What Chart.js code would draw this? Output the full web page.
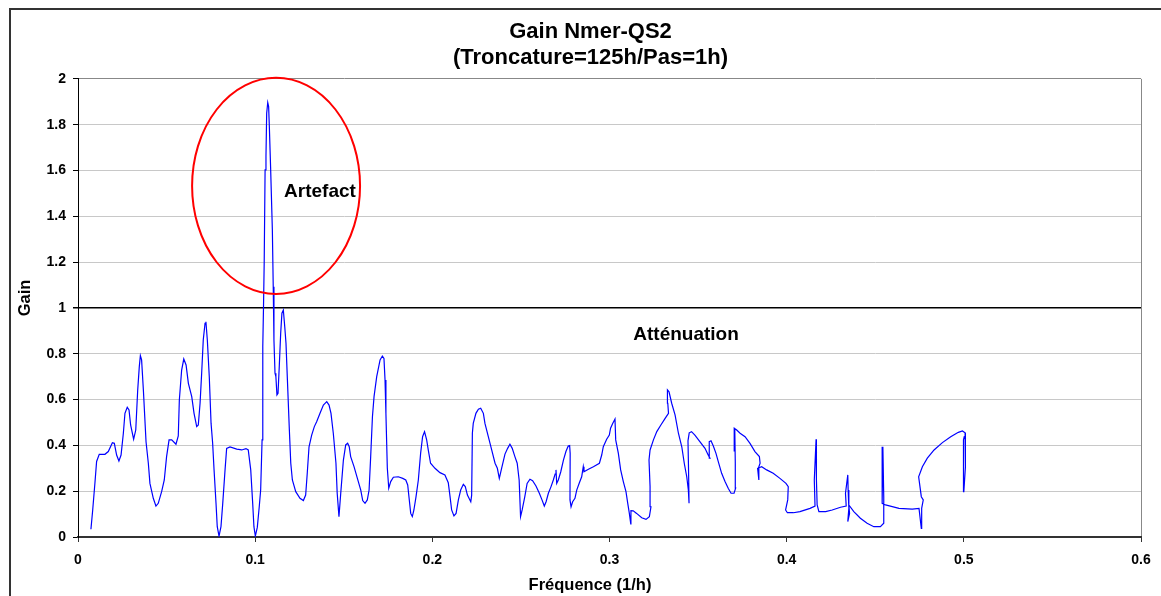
<!DOCTYPE html>
<html>
<head>
<meta charset="utf-8">
<script src="https://cdn.jsdelivr.net/npm/chart.js@4.4.1/dist/chart.umd.min.js"></script>
<style>
html, body { margin: 0; padding: 0; background: #fff; }
#wrap { width: 1161px; height: 596px; }
</style>
</head>
<body>
<div id="wrap"><canvas id="gainChart" width="1161" height="596"></canvas></div>
<script>
/* DATA */
const titleLines = ["Gain Nmer-QS2", "(Troncature=125h/Pas=1h)"];
const xTitle = "Fréquence (1/h)";
const yTitle = "Gain";
const xTicks = [0, 0.1, 0.2, 0.3, 0.4, 0.5, 0.6];
const yTicks = [0, 0.2, 0.4, 0.6, 0.8, 1, 1.2, 1.4, 1.6, 1.8, 2];

// fréquence (1/h) (the curve folds back on itself in places)
const freq = [
  0.0073, 0.0083, 0.0096, 0.0105, 0.012, 0.0152, 0.0171, 0.0194, 0.0205, 0.0218,
  0.0231, 0.0243, 0.0256, 0.0265, 0.0278, 0.0288, 0.0297, 0.0314, 0.0326, 0.0337,
  0.0346, 0.0352, 0.0359, 0.0369, 0.0384, 0.0397, 0.0406, 0.0425, 0.044, 0.0453,
  0.0472, 0.0487, 0.05, 0.0514, 0.0529, 0.0553, 0.0566, 0.0572, 0.0585, 0.0597,
  0.061, 0.0623, 0.0642, 0.0655, 0.067, 0.0679, 0.0689, 0.0698, 0.0707, 0.0717,
  0.0722, 0.073, 0.0741, 0.0751, 0.076, 0.0768, 0.0779, 0.0786, 0.0796, 0.0807,
  0.0817, 0.083, 0.0839, 0.0858, 0.0896, 0.0924, 0.0948, 0.0961, 0.0975, 0.0986,
  0.0993, 0.1001, 0.1012, 0.1023, 0.1031, 0.1039, 0.1042, 0.1044, 0.1047, 0.1051,
  0.1056, 0.1061, 0.1065, 0.1071, 0.1076, 0.108, 0.1087, 0.1097, 0.1102, 0.1106,
  0.1112, 0.1117, 0.1123, 0.1129, 0.1136, 0.1144, 0.1151, 0.1159, 0.1167, 0.1174,
  0.1182, 0.1193, 0.1201, 0.121, 0.1229, 0.1253, 0.1272, 0.1285, 0.1294, 0.1304,
  0.1319, 0.1334, 0.1347, 0.1366, 0.1385, 0.1404, 0.1417, 0.1428, 0.1441, 0.1456,
  0.1463, 0.1473, 0.1483, 0.1498, 0.1511, 0.1522, 0.1531, 0.1539, 0.1558, 0.1577,
  0.1596, 0.1607, 0.162, 0.1633, 0.1643, 0.1652, 0.1662, 0.1671, 0.1686, 0.1705,
  0.1718, 0.1727, 0.1733, 0.1738, 0.1746, 0.1754, 0.1765, 0.178, 0.1808, 0.1833,
  0.185, 0.1861, 0.1868, 0.1878, 0.1887, 0.1896, 0.1908, 0.1921, 0.1934, 0.1945,
  0.1956, 0.1968, 0.1977, 0.199, 0.2015, 0.2043, 0.2071, 0.209, 0.21, 0.2109,
  0.2122, 0.2134, 0.2147, 0.216, 0.2175, 0.2186, 0.2198, 0.2217, 0.2222, 0.2226,
  0.2231, 0.2246, 0.226, 0.2273, 0.2288, 0.2297, 0.2316, 0.2335, 0.2354, 0.2367,
  0.2378, 0.2391, 0.241, 0.2425, 0.2438, 0.2451, 0.2466, 0.2479, 0.249, 0.2498,
  0.2507, 0.2522, 0.2535, 0.2551, 0.2566, 0.2585, 0.2604, 0.2619, 0.2632, 0.2642,
  0.2655, 0.267, 0.2683, 0.2693, 0.2698, 0.2702, 0.2711, 0.2725, 0.274, 0.2754,
  0.2767, 0.2775, 0.2778, 0.2777, 0.2783, 0.2792, 0.2805, 0.2815, 0.283, 0.2843,
  0.2852, 0.2856, 0.2881, 0.2909, 0.2943, 0.2956, 0.2965, 0.2984, 0.2999, 0.3006,
  0.3018, 0.3031, 0.3035, 0.305, 0.3063, 0.3078, 0.3093, 0.3103, 0.3112, 0.312,
  0.3121, 0.3134, 0.3153, 0.3182, 0.3206, 0.3225, 0.3234, 0.3229, 0.3223, 0.3229,
  0.3248, 0.3267, 0.329, 0.3314, 0.3333, 0.3329, 0.3327, 0.3336, 0.3351, 0.337,
  0.3389, 0.3408, 0.3422, 0.3436, 0.3445, 0.3449, 0.3446, 0.3443, 0.345, 0.3463,
  0.3482, 0.351, 0.3539, 0.3557, 0.3567, 0.3563, 0.3573, 0.3586, 0.3601, 0.3614,
  0.3633, 0.3652, 0.367, 0.3686, 0.3703, 0.3712, 0.371, 0.3707, 0.3703, 0.3705,
  0.3718, 0.3737, 0.3765, 0.3793, 0.3821, 0.3846, 0.385, 0.384, 0.3843, 0.3836,
  0.3859, 0.3887, 0.3924, 0.3962, 0.3996, 0.4009, 0.4006, 0.3994, 0.4004, 0.4038,
  0.4075, 0.4132, 0.416, 0.4156, 0.4166, 0.4168, 0.4172, 0.4182, 0.422, 0.4257,
  0.4304, 0.4336, 0.4332, 0.4345, 0.4347, 0.4351, 0.4345, 0.4355, 0.4351, 0.4379,
  0.4416, 0.4454, 0.4492, 0.4529, 0.4548, 0.4548, 0.4543, 0.4539, 0.4539, 0.4558,
  0.4634, 0.4709, 0.4747, 0.476, 0.4762, 0.4771, 0.476, 0.4745, 0.4766, 0.4794,
  0.4832, 0.4879, 0.4926, 0.4969, 0.4992, 0.5007, 0.5011, 0.5007, 0.5, 0.4998,
  0.5003
];

// gain, same order as freq
const gain = [
  0.034, 0.118, 0.24, 0.33, 0.361, 0.361, 0.373, 0.412, 0.409, 0.358,
  0.332, 0.358, 0.453, 0.54, 0.566, 0.555, 0.489, 0.427, 0.467, 0.642,
  0.744, 0.792, 0.773, 0.642, 0.416, 0.322, 0.234, 0.169, 0.135, 0.147,
  0.198, 0.249, 0.351, 0.424, 0.424, 0.405, 0.441, 0.598, 0.729, 0.777,
  0.751, 0.671, 0.613, 0.54, 0.482, 0.489, 0.584, 0.715, 0.86, 0.933,
  0.94, 0.86, 0.7, 0.497, 0.409, 0.293, 0.147, 0.045, 0.004, 0.045,
  0.147, 0.293, 0.387, 0.393, 0.384, 0.38, 0.386, 0.38, 0.293, 0.147,
  0.045, 0.004, 0.042, 0.132, 0.205, 0.424, 0.642, 0.831, 1.0, 1.2,
  1.603, 1.661, 1.85, 1.897, 1.879, 1.792, 1.617, 1.341, 1.093, 0.86,
  0.715, 0.7, 0.62, 0.627, 0.744, 0.889, 0.977, 0.991, 0.918, 0.846,
  0.686, 0.467, 0.322, 0.249, 0.198, 0.169, 0.159, 0.183, 0.278, 0.394,
  0.445, 0.482, 0.503, 0.54, 0.576, 0.591, 0.576, 0.54, 0.453, 0.322,
  0.191, 0.089, 0.191, 0.336, 0.402, 0.409, 0.394, 0.351, 0.307, 0.256,
  0.205, 0.159, 0.147, 0.162, 0.205, 0.351, 0.526, 0.613, 0.7, 0.773,
  0.79, 0.78, 0.686, 0.54, 0.3, 0.213, 0.242, 0.261, 0.263, 0.256,
  0.249, 0.227, 0.176, 0.103, 0.089, 0.118, 0.176, 0.249, 0.366, 0.438,
  0.46, 0.424, 0.38, 0.322, 0.3, 0.281, 0.271, 0.237, 0.176, 0.118,
  0.092, 0.103, 0.162, 0.205, 0.23, 0.22, 0.183, 0.154, 0.183, 0.453,
  0.496, 0.54, 0.558, 0.562, 0.54, 0.496, 0.438, 0.38, 0.322, 0.3,
  0.256, 0.3, 0.362, 0.387, 0.405, 0.387, 0.351, 0.322, 0.249, 0.089,
  0.118, 0.176, 0.234, 0.252, 0.246, 0.223, 0.191, 0.162, 0.135, 0.154,
  0.191, 0.22, 0.249, 0.275, 0.293, 0.234, 0.249, 0.285, 0.336, 0.373,
  0.397, 0.399, 0.365, 0.162, 0.132, 0.154, 0.169, 0.205, 0.237, 0.263,
  0.307, 0.285, 0.296, 0.307, 0.322, 0.358, 0.394, 0.427, 0.445, 0.475,
  0.496, 0.515, 0.424, 0.365, 0.293, 0.242, 0.198, 0.147, 0.103, 0.057,
  0.115, 0.114, 0.103, 0.084, 0.077, 0.089, 0.132, 0.22, 0.336, 0.38,
  0.424, 0.46, 0.489, 0.518, 0.54, 0.584, 0.642, 0.634, 0.584, 0.533,
  0.453, 0.394, 0.322, 0.263, 0.205, 0.147, 0.3, 0.42, 0.455, 0.46,
  0.445, 0.416, 0.387, 0.358, 0.344, 0.416, 0.42, 0.397, 0.365, 0.329,
  0.278, 0.242, 0.213, 0.191, 0.191, 0.213, 0.322, 0.475, 0.373, 0.475,
  0.467, 0.453, 0.438, 0.409, 0.373, 0.351, 0.322, 0.3, 0.249, 0.3,
  0.307, 0.293, 0.278, 0.256, 0.234, 0.22, 0.162, 0.118, 0.106, 0.106,
  0.111, 0.125, 0.135, 0.249, 0.427, 0.249, 0.14, 0.111, 0.111, 0.118,
  0.13, 0.135, 0.191, 0.271, 0.205, 0.125, 0.067, 0.103, 0.14, 0.111,
  0.082, 0.06, 0.045, 0.045, 0.06, 0.176, 0.394, 0.249, 0.147, 0.14,
  0.125, 0.122, 0.125, 0.038, 0.125, 0.162, 0.176, 0.263, 0.307, 0.344,
  0.38, 0.412, 0.438, 0.457, 0.463, 0.455, 0.424, 0.307, 0.198, 0.424,
  0.44
];

// annotations (data coords)
const artefactEllipse = { x: 0.1118, y: 1.533, rx: 0.0474, ry: 0.4716 };
const notes = [
  { text: "Artefact", x: 0.1366, y: 1.507 },
  { text: "Atténuation", x: 0.3432, y: 0.882 }
];

const FONT = "'Liberation Sans', Arial, sans-serif";

/* PLUGIN: cadre, ellipse, textes */
const decor = {
  id: "decor",
  beforeDraw(chart) {
    const ctx = chart.ctx;
    ctx.save();
    ctx.fillStyle = "#fff";
    ctx.fillRect(0, 0, chart.width, chart.height);
    ctx.strokeStyle = "#333";
    ctx.lineWidth = 2;
    ctx.beginPath();
    ctx.moveTo(10, chart.height);
    ctx.lineTo(10, 9);
    ctx.lineTo(chart.width, 9);
    ctx.stroke();
    ctx.restore();
  },
  afterDatasetsDraw(chart) {
    const ctx = chart.ctx;
    const x = chart.scales.x, y = chart.scales.y;
    const e = artefactEllipse;
    const cx = x.getPixelForValue(e.x), cy = y.getPixelForValue(e.y);
    const rx = x.getPixelForValue(e.x + e.rx) - cx;
    const ry = cy - y.getPixelForValue(e.y + e.ry);

    ctx.save();
    ctx.strokeStyle = "#ff0000";
    ctx.lineWidth = 2;
    ctx.beginPath();
    ctx.ellipse(cx, cy, rx, ry, 0, 0, Math.PI * 2);
    ctx.stroke();

    ctx.fillStyle = "#000";
    ctx.textAlign = "center";
    ctx.textBaseline = "middle";
    ctx.font = "bold 19px " + FONT;
    notes.forEach(n => {
      ctx.fillText(n.text, x.getPixelForValue(n.x), y.getPixelForValue(n.y));
    });

    // axis titles
    ctx.font = "bold 16.5px " + FONT;
    ctx.fillText(xTitle, 590, 585);
    ctx.translate(25, 298);
    ctx.rotate(-Math.PI / 2);
    ctx.fillText(yTitle, 0, 0);
    ctx.restore();
  }
};

const fmt = v => String(Number(v.toFixed(1)));

new Chart(document.getElementById("gainChart"), {
  type: "scatter",
  data: {
    datasets: [{
      data: freq.map((f, i) => ({ x: f, y: gain[i] })),
      showLine: true,
      borderColor: "#0000ff",
      borderWidth: 1.2,
      pointRadius: 0,
      tension: 0,
      fill: false
    }]
  },
  options: {
    responsive: false,
    animation: false,
    devicePixelRatio: 1,
    layout: { padding: { left: 40, right: 20, top: 0, bottom: 0 } },
    plugins: {
      legend: { display: false },
      tooltip: { enabled: false },
      title: {
        display: true,
        text: titleLines,
        color: "#000",
        font: { family: FONT, size: 22, weight: "bold", lineHeight: 1.18 },
        padding: { top: 19, bottom: 8 }
      }
    },
    scales: {
      x: {
        type: "linear",
        min: 0,
        max: 0.6,
        afterBuildTicks: s => { s.ticks = xTicks.map(v => ({ value: v })); },
        afterFit: s => { s.height = 59; },
        ticks: {
          color: "#000",
          padding: 10,
          font: { family: FONT, size: 14, weight: "bold" },
          callback: fmt
        },
        grid: {
          drawOnChartArea: true,
          color: c => (c.tick && c.tick.value === 0.6 ? "#888" : "rgba(0,0,0,0)"),
          tickColor: "#333",
          tickLength: 5
        },
        border: { color: "#333", width: 2 }
      },
      y: {
        type: "linear",
        min: 0,
        max: 2,
        afterBuildTicks: s => { s.ticks = yTicks.map(v => ({ value: v })); },
        afterFit: s => { s.width = 38; },
        ticks: {
          color: "#000",
          padding: 7,
          font: { family: FONT, size: 14, weight: "bold" },
          callback: fmt
        },
        grid: {
          color: c => {
            const v = c.tick ? c.tick.value : null;
            if (v === 1) return "#000";
            if (v === 2) return "#888";
            return "#c8c8c8";
          },
          lineWidth: c => (c.tick && c.tick.value === 1 ? 1.5 : 1),
          tickColor: "#000",
          tickLength: 5
        },
        border: { color: "#000", width: 1 }
      }
    }
  },
  plugins: [decor]
});
</script>
</body>
</html>
